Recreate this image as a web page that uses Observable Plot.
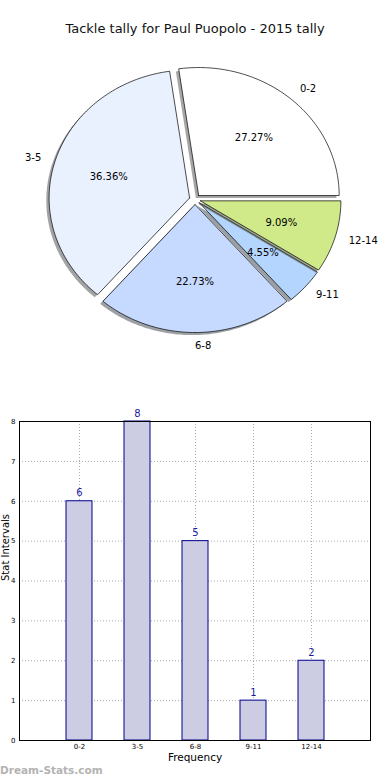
<!DOCTYPE html>
<html>
<head>
<meta charset="utf-8">
<script src="https://cdn.jsdelivr.net/npm/d3@7"></script>
<script src="https://cdn.jsdelivr.net/npm/@observablehq/plot@0.6"></script>
<style>
  html, body { margin: 0; padding: 0; background: #fff; }
  body { width: 390px; height: 780px; position: relative; overflow: hidden; font-family: "DejaVu Sans", sans-serif; }
  #title { position: absolute; top: 21px; left: 0; width: 390px; text-align: center; font-size: 13px; color: #111; }
  #pie { position: absolute; top: 0; left: 0; }
  #bar { position: absolute; top: 400px; left: 0; }
  #wm { position: absolute; left: 0; top: 764px; font-size: 10.5px; font-weight: bold; color: #b3b3b3; }
</style>
</head>
<body>
<div id="pie"></div>
<div id="title">Tackle tally for Paul Puopolo - 2015 tally</div>
<div id="bar"></div>
<div id="wm">Dream-Stats.com</div>
<script>
// ---- data ----
const categories = ["0-2", "3-5", "6-8", "9-11", "12-14"];
const counts = [6, 8, 5, 1, 2];
const sliceColors = ["#ffffff", "#eaf1fe", "#c6d9fe", "#b4d5fe", "#d0ea8a"];
const yTicks = [0, 1, 2, 3, 4, 5, 6, 7, 8];
const xLabel = "Frequency";
const yLabel = "Stat Intervals";

// ---- pie geometry (matplotlib-like) ----
const explode = 0.04, shadowOff = 0.02, labelDist = 1.1, pctDist = 0.6;
const total = d3.sum(counts);
let cum = 0;
const slices = categories.map((c, i) => {
  const a0 = cum / total * 2 * Math.PI;
  cum += counts[i];
  const a1 = cum / total * 2 * Math.PI;
  const mid = (a0 + a1) / 2;
  const ox = explode * Math.cos(mid), oy = explode * Math.sin(mid);
  const n = Math.max(8, Math.ceil((a1 - a0) / (2 * Math.PI) * 360));
  const pts = [{x: ox, y: oy}];
  for (let k = 0; k <= n; k++) {
    const t = a0 + (a1 - a0) * k / n;
    pts.push({x: ox + Math.cos(t), y: oy + Math.sin(t)});
  }
  pts.push({x: ox, y: oy});
  const shadow = pts.map(p => ({x: p.x - shadowOff, y: p.y - shadowOff}));
  const rgb = d3.rgb(sliceColors[i]);
  const shadowColor = d3.rgb(rgb.r * 0.3, rgb.g * 0.3, rgb.b * 0.3).formatHex();
  return {
    cat: c, value: counts[i], color: sliceColors[i], pts, shadow, shadowColor,
    lx: ox + labelDist * Math.cos(mid), ly: oy + labelDist * Math.sin(mid),
    px: ox + pctDist * Math.cos(mid), py: oy + pctDist * Math.sin(mid),
    pct: d3.format(".2f")(counts[i] / total * 100) + "%",
    anchor: Math.cos(mid) > -1e-9 ? "start" : "end"
  };
});

const pieMarks = [];
slices.forEach(s => {
  pieMarks.push(Plot.line(s.shadow, {x: "x", y: "y", fill: s.shadowColor, fillOpacity: 0.5, stroke: "none"}));
  pieMarks.push(Plot.line(s.pts, {x: "x", y: "y", fill: s.color, stroke: "#000", strokeWidth: 0.7, strokeLinejoin: "miter"}));
});
pieMarks.push(Plot.text(slices, {filter: d => d.anchor === "start", x: "lx", y: "ly", text: "cat", textAnchor: "start", fontSize: 10, fill: "#000"}));
pieMarks.push(Plot.text(slices, {filter: d => d.anchor === "end", x: "lx", y: "ly", text: "cat", textAnchor: "end", fontSize: 10, fill: "#000"}));
pieMarks.push(Plot.text(slices, {x: "px", y: "py", text: "pct", fontSize: 10, fill: "#000"}));

const rx = 140.5, ry = 128, cx = 194.5, cy = 198.9, pieW = 390, pieH = 370;
const pie = Plot.plot({
  width: pieW, height: pieH,
  marginTop: 0, marginBottom: 0, marginLeft: 0, marginRight: 0,
  style: {fontFamily: "DejaVu Sans", background: "transparent"},
  x: {domain: [(0 - cx) / rx, (pieW - cx) / rx], axis: null},
  y: {domain: [(cy - pieH) / ry, cy / ry], axis: null},
  marks: pieMarks
});
document.getElementById("pie").appendChild(pie);

// ---- bar chart ----
const barData = categories.map((c, i) => ({cat: c, val: counts[i]}));
const bar = Plot.plot({
  width: 390, height: 380,
  marginTop: 21, marginBottom: 40, marginLeft: 19, marginRight: 20,
  style: {fontFamily: "DejaVu Sans", background: "transparent"},
  x: {type: "band", domain: categories, paddingInner: 0.556, paddingOuter: 0.778},
  y: {domain: [0, 8]},
  marks: [
    Plot.gridY(yTicks, {stroke: "#aaa", strokeOpacity: 1, strokeDasharray: "1,2"}),
    Plot.gridX(categories, {stroke: "#aaa", strokeOpacity: 1, strokeDasharray: "1,2"}),
    Plot.barY(barData, {x: "cat", y: "val", fill: "#cccce3", stroke: "#00008b", strokeWidth: 1}),
    Plot.text(barData, {x: "cat", y: "val", text: d => String(d.val), dy: -8, fill: "#1c1ca0", fontSize: 10}),
    Plot.frame({stroke: "#000", strokeWidth: 1}),
    Plot.axisY(yTicks, {tickSize: 0, tickPadding: 4, fontSize: 7, label: null, fill: "#000"}),
    Plot.axisX(categories, {tickSize: 0, tickPadding: 4, fontSize: 7, label: null, fill: "#000"}),
    Plot.text([xLabel], {frameAnchor: "bottom", dy: 20, fontSize: 10.5, fill: "#000"}),
    Plot.text([yLabel], {frameAnchor: "left", rotate: -90, dx: -13.5, fontSize: 10, fill: "#000"})
  ]
});
document.getElementById("bar").appendChild(bar);
</script>
</body>
</html>
